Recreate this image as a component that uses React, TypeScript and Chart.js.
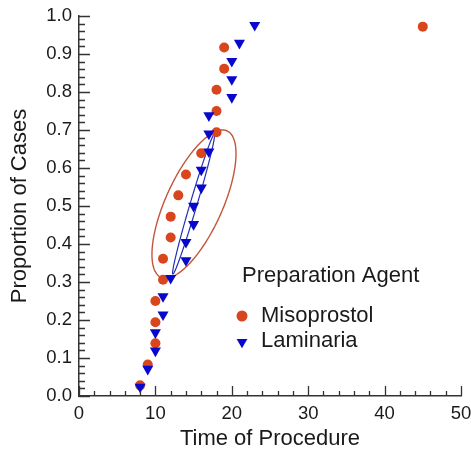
import React, { useEffect, useRef } from 'react';
import { Chart, registerables } from 'chart.js';

Chart.register(...registerables);

// ---- Data ----
const misoTime = [8, 9, 10, 10, 10, 11, 11, 12, 12, 13, 14, 16, 18, 18, 18, 19, 19, 45];
const misoProp = [0.028, 0.083, 0.139, 0.194, 0.25, 0.306, 0.361, 0.417, 0.472, 0.528, 0.583, 0.639, 0.694, 0.75, 0.806, 0.861, 0.917, 0.972];

const lamTime = [8, 9, 10, 10, 11, 11, 12, 14, 14, 15, 15, 16, 16, 17, 17, 17, 20, 20, 20, 21, 23];
const lamProp = [0.024, 0.071, 0.119, 0.167, 0.214, 0.262, 0.31, 0.357, 0.405, 0.452, 0.5, 0.548, 0.595, 0.643, 0.69, 0.738, 0.786, 0.833, 0.881, 0.929, 0.976];

// ellipses: [centerX, centerY, halfExtentX, halfExtentY, correlation]
const misoEllipse = [15.05, 0.505, 5.5, 0.195, 0.68];
const lamEllipse = [15.0, 0.505, 2.75, 0.184, 0.985];

const xMajorTicks = [0, 10, 20, 30, 40, 50];
const yMajorTicks = [0.0, 0.1, 0.2, 0.3, 0.4, 0.5, 0.6, 0.7, 0.8, 0.9, 1.0];

const seriesNames = ['Misoprostol', 'Laminaria'];
const legendTitle = 'Preparation Agent';
const xTitle = 'Time of Procedure';
const yTitle = 'Proportion of Cases';

const FONT = "'Liberation Sans', Arial, Helvetica, sans-serif";
const RED = '#d9461d';
const BLUE = '#0808cc';
const RED_LINE = '#c4553a';
const BLUE_LINE = '#2030b8';
const AXIS = '#333333';
const TEXT = '#1a1a1a';

const isMajor = (v: number, list: number[]) => list.some((m) => Math.abs(m - v) < 1e-6);

function drawEllipse(ctx: CanvasRenderingContext2D, xs: any, ys: any, e: number[], color: string, width: number) {
  const [cx, cy, sx, sy, rho] = e;
  const d = Math.acos(rho);
  ctx.save();
  ctx.beginPath();
  const n = 240;
  for (let i = 0; i <= n; i++) {
    const t = (i / n) * Math.PI * 2;
    const px = xs.getPixelForValue(cx + sx * Math.cos(t));
    const py = ys.getPixelForValue(cy + sy * Math.cos(t - d));
    if (i === 0) ctx.moveTo(px, py);
    else ctx.lineTo(px, py);
  }
  ctx.closePath();
  ctx.strokeStyle = color;
  ctx.lineWidth = width;
  ctx.stroke();
  ctx.restore();
}

const ellipsePlugin = {
  id: 'ellipses',
  beforeDatasetsDraw(chart: any) {
    const { ctx, scales } = chart;
    drawEllipse(ctx, scales.x, scales.y, misoEllipse, RED_LINE, 1.4);
    drawEllipse(ctx, scales.x, scales.y, lamEllipse, BLUE_LINE, 1.2);
  },
};

const inwardTicksPlugin = {
  id: 'inwardTicks',
  afterDraw(chart: any) {
    const { ctx, scales } = chart;
    const xs = scales.x;
    const ys = scales.y;
    ctx.save();
    ctx.strokeStyle = AXIS;
    ctx.lineWidth = 1.3;
    ctx.beginPath();
    const bottom = ys.getPixelForValue(0);
    const left = xs.getPixelForValue(0);
    xs.ticks.forEach((t: any) => {
      const px = Math.round(xs.getPixelForValue(t.value)) + 0.5;
      const len = isMajor(t.value, xMajorTicks) ? 10 : 5;
      ctx.moveTo(px, bottom);
      ctx.lineTo(px, bottom - len);
    });
    ys.ticks.forEach((t: any) => {
      const py = Math.round(ys.getPixelForValue(t.value)) + 0.5;
      const len = isMajor(t.value, yMajorTicks) ? 11 : 6;
      ctx.moveTo(left, py);
      ctx.lineTo(left + len, py);
    });
    ctx.stroke();
    ctx.restore();
  },
};

const legendPlugin = {
  id: 'customLegend',
  afterDraw(chart: any) {
    const { ctx, chartArea } = chart;
    const x0 = chartArea.left + 163;
    const y0 = chartArea.top + 260;
    ctx.save();
    ctx.font = `22px ${FONT}`;
    ctx.fillStyle = TEXT;
    ctx.textBaseline = 'middle';
    ctx.textAlign = 'left';
    ctx.fillText(legendTitle, x0, y0);
    // Misoprostol marker
    ctx.fillStyle = RED;
    ctx.beginPath();
    ctx.arc(x0, y0 + 40, 5.5, 0, Math.PI * 2);
    ctx.fill();
    ctx.fillStyle = TEXT;
    ctx.fillText(seriesNames[0], x0 + 19, y0 + 40);
    // Laminaria marker (down triangle)
    const ty = y0 + 66;
    const r = 6.2;
    ctx.fillStyle = BLUE;
    ctx.beginPath();
    ctx.moveTo(x0, ty + r);
    ctx.lineTo(x0 - r * Math.sin(Math.PI / 3), ty - r / 2);
    ctx.lineTo(x0 + r * Math.sin(Math.PI / 3), ty - r / 2);
    ctx.closePath();
    ctx.fill();
    ctx.fillStyle = TEXT;
    ctx.fillText(seriesNames[1], x0 + 19, y0 + 65);
    ctx.restore();
  },
};

export default function App() {
  const ref = useRef<HTMLCanvasElement | null>(null);

  useEffect(() => {
    if (!ref.current) return;
    const chart = new Chart(ref.current, {
      type: 'scatter',
      data: {
        datasets: [
          {
            label: seriesNames[0],
            data: misoTime.map((x, i) => ({ x, y: misoProp[i] })),
            pointStyle: 'circle',
            pointRadius: 5,
            backgroundColor: RED,
            borderColor: RED,
            borderWidth: 0,
            order: 1,
          },
          {
            label: seriesNames[1],
            data: lamTime.map((x, i) => ({ x, y: lamProp[i] })),
            pointStyle: 'triangle',
            pointRotation: 180,
            pointRadius: 6.4,
            backgroundColor: BLUE,
            borderColor: BLUE,
            borderWidth: 0,
            order: 0,
          },
        ],
      },
      options: {
        animation: false,
        responsive: false,
        maintainAspectRatio: false,
        layout: { padding: { top: 16, right: 10, bottom: 0, left: 0 } },
        plugins: { legend: { display: false }, tooltip: { enabled: false } },
        scales: {
          x: {
            type: 'linear',
            min: 0,
            max: 50,
            grid: { display: false, drawTicks: false },
            border: { display: true, color: AXIS, width: 1.5 },
            ticks: {
              stepSize: 2,
              autoSkip: false,
              maxRotation: 0,
              padding: 7,
              color: TEXT,
              font: { family: FONT, size: 18.5 },
              callback: (v: any) => (isMajor(Number(v), xMajorTicks) ? String(Math.round(Number(v))) : ''),
            },
            title: {
              display: true,
              text: xTitle,
              color: TEXT,
              font: { family: FONT, size: 22 },
              padding: { top: 0, bottom: 2 },
            },
            afterFit: (s: any) => {
              s.height = 58;
              s.paddingRight = 0;
              s.paddingLeft = 0;
            },
          },
          y: {
            type: 'linear',
            min: 0,
            max: 1,
            grid: { display: false, drawTicks: false },
            border: { display: true, color: AXIS, width: 1.5 },
            ticks: {
              stepSize: 0.02,
              autoSkip: false,
              padding: 7,
              color: TEXT,
              font: { family: FONT, size: 18.5 },
              callback: (v: any) => (isMajor(Number(v), yMajorTicks) ? Number(v).toFixed(1) : ''),
            },
            title: {
              display: true,
              text: yTitle,
              color: TEXT,
              font: { family: FONT, size: 22 },
              padding: { top: 7, bottom: 0 },
            },
            afterFit: (s: any) => {
              s.width = 79;
              s.paddingTop = 0;
              s.paddingBottom = 0;
            },
          },
        },
      },
      plugins: [ellipsePlugin, inwardTicksPlugin, legendPlugin],
    });
    return () => chart.destroy();
  }, []);

  return (
    <div style={{ position: 'absolute', left: 0, top: 0, width: 471, height: 454, background: '#fff' }}>
      <canvas ref={ref} width={471} height={454} style={{ display: 'block' }} />
    </div>
  );
}
